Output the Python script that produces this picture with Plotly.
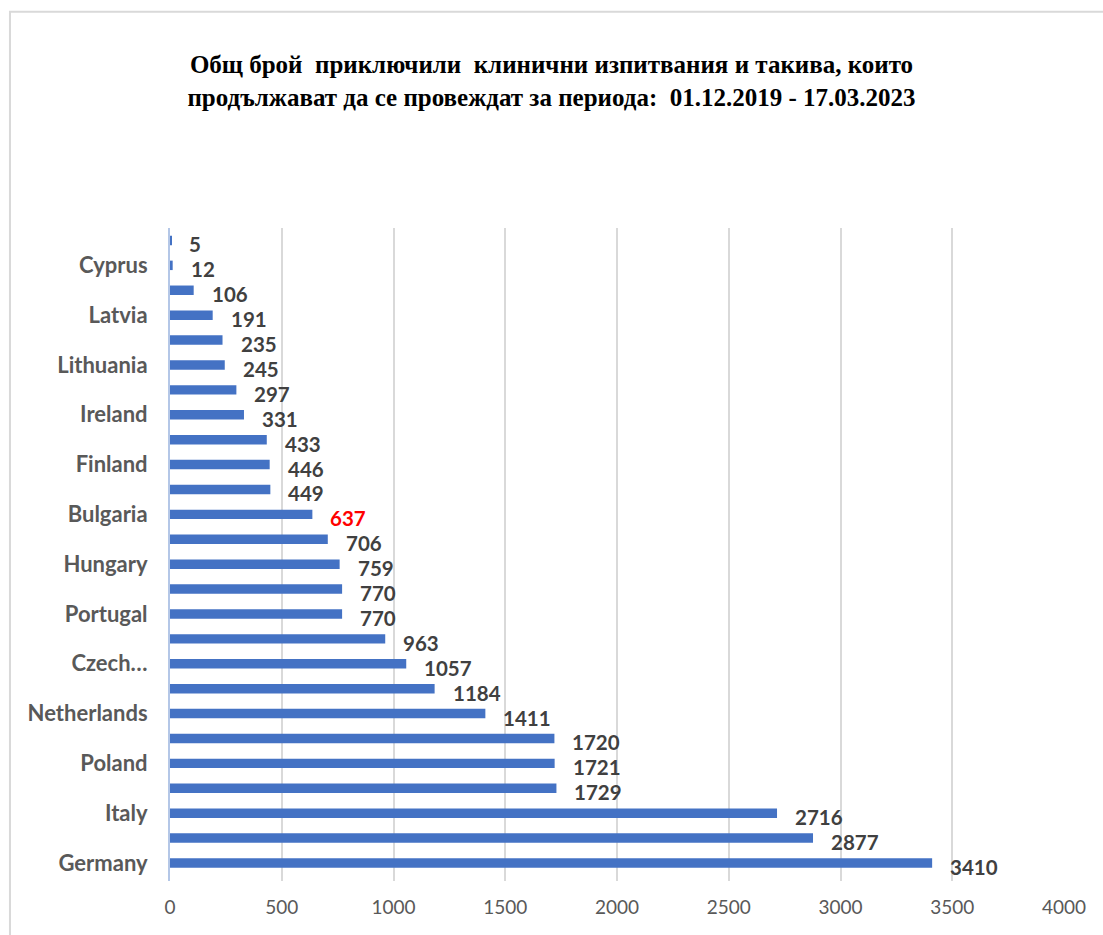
import plotly.graph_objects as go

# Countries ordered bottom to top, with the number of trials for each
countries = [
    "Germany", "Spain", "Italy", "France", "Poland", "Belgium", "Netherlands",
    "Denmark", "Czech Republic", "Austria", "Portugal", "Greece", "Hungary",
    "Sweden", "Bulgaria", "Romania", "Finland", "Slovakia", "Ireland",
    "Croatia", "Lithuania", "Estonia", "Latvia", "Slovenia", "Cyprus", "Malta",
]
trials = [
    3410, 2877, 2716, 1729, 1721, 1720, 1411, 1184, 1057, 963, 770, 770, 759,
    706, 637, 449, 446, 433, 331, 297, 245, 235, 191, 106, 12, 5,
]

# Only every other category gets a visible tick label
tick_countries = countries[0::2]
tick_labels = ["Germany", "Italy", "Poland", "Netherlands", "Czech…", "Portugal",
               "Hungary", "Bulgaria", "Finland", "Ireland", "Lithuania", "Latvia",
               "Cyprus"]

highlight = "Bulgaria"
x_ticks = [0, 500, 1000, 1500, 2000, 2500, 3000, 3500, 4000]

title_text = ("Общ брой  приключили  клинични изпитвания и такива, които<br>"
              "продължават да се провеждат за периода:  01.12.2019 - 17.03.2023")

BAR = "#4472C4"
LABEL = "#404040"
AXIS_TXT = "#595959"
GRID = "#D9D9D9"

fig = go.Figure(
    go.Bar(
        x=trials,
        y=countries,
        orientation="h",
        marker=dict(color=BAR, line=dict(width=0)),
        hoverinfo="x+y",
    )
)

# Value labels just past the end of each bar
for c, v in zip(countries, trials):
    fig.add_annotation(
        x=v, y=c, xref="x", yref="y",
        text=f"<b>{v}</b>",
        showarrow=False,
        xanchor="left", yanchor="middle",
        xshift=16, yshift=-4,
        font=dict(family="Lato", size=20.5,
                  color="#FF0000" if c == highlight else LABEL),
    )

# Light frame around the chart area
fig.add_shape(
    type="rect", xref="paper", yref="paper",
    x0=-0.179, x1=1.2, y0=-0.3, y1=1.331,
    line=dict(color=GRID, width=2), fillcolor="rgba(0,0,0,0)",
    layer="below",
)

fig.update_layout(
    width=1103, height=935,
    margin=dict(l=170, r=39, t=228, b=54),
    paper_bgcolor="white", plot_bgcolor="white",
    bargap=0.62,
    showlegend=False,
    title=dict(
        text=f"<b>{title_text}</b>",
        x=0.5, xanchor="center", xref="container",
        y=1 - 73 / 935, yanchor="middle", yref="container",
        font=dict(family="Liberation Serif", size=25, color="black"),
    ),
    xaxis=dict(
        range=[0, 4000],
        tickvals=x_ticks,
        showgrid=True, gridcolor=GRID, gridwidth=1.5,
        zeroline=False, showline=False,
        ticks="", ticklabelstandoff=13,
        tickfont=dict(family="Lato", size=19, color=AXIS_TXT),
        fixedrange=True,
    ),
    yaxis=dict(
        type="category",
        categoryorder="array", categoryarray=countries,
        tickmode="array", tickvals=tick_countries, ticktext=tick_labels,
        showgrid=False, zeroline=False,
        showline=True, linecolor="#B4C7E7", linewidth=2,
        ticks="", ticklabelstandoff=16,
        tickfont=dict(family="Lato", size=22, color=AXIS_TXT, weight="bold"),
        fixedrange=True,
    ),
)

fig.write_html("out.html")
